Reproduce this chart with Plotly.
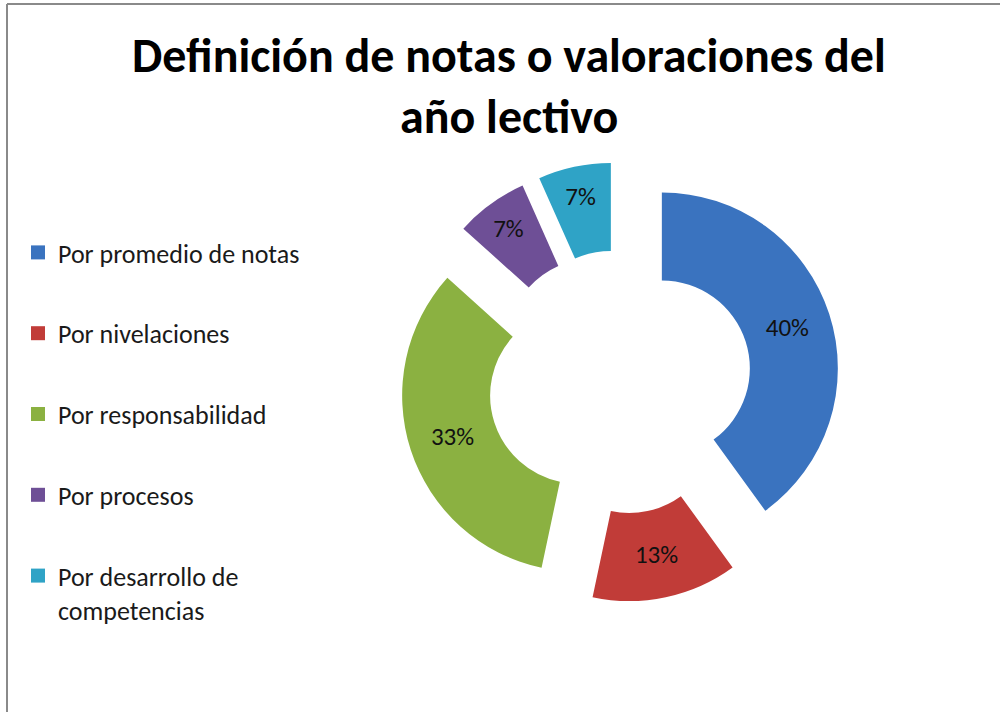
import plotly.graph_objects as go

# ---- data ----
categories = [
    "Por promedio de notas",
    "Por nivelaciones",
    "Por responsabilidad",
    "Por procesos",
    "Por desarrollo de competencias",
]
legend_labels = [
    "Por promedio de notas",
    "Por nivelaciones",
    "Por responsabilidad",
    "Por procesos",
    "Por desarrollo de<br>competencias",
]
counts = [6, 2, 5, 1, 1]
colors = ["#3A73BF", "#C13C38", "#8BB141", "#6E4F96", "#2FA3C6"]
title_line1 = "Definición de notas o valoraciones del"
title_line2 = "año lectivo"

W, H = 1000, 712
FONT = "Carlito, Lato, sans-serif"

fig = go.Figure()

fig.add_trace(go.Pie(
    labels=categories,
    values=counts,
    sort=False,
    direction="clockwise",
    rotation=0,
    hole=0.5,
    pull=[0.25] * len(counts),
    marker=dict(colors=colors, line=dict(width=0)),
    texttemplate="%{percent:.0%}",
    textposition="inside",
    insidetextorientation="horizontal",
    textfont=dict(family=FONT, size=25, color="#111111"),
    showlegend=False,
    hoverinfo="label+percent",
    domain=dict(x=[400 / W, 840 / W], y=[1 - 602 / H, 1 - 162 / H]),
))

# legend entries (one per category)
for lab, col, cat in zip(legend_labels, colors, categories):
    fig.add_trace(go.Scatter(
        x=[None], y=[None], mode="markers",
        marker=dict(symbol="square", size=14, color=col),
        name=lab, legendgroup=cat, showlegend=True,
    ))

fig.update_layout(
    width=W, height=H,
    margin=dict(l=0, r=0, t=0, b=0),
    paper_bgcolor="white",
    plot_bgcolor="white",
    xaxis=dict(visible=False),
    yaxis=dict(visible=False),
    showlegend=True,
    legend=dict(
        x=18 / W, xanchor="left",
        y=1 - 229 / H, yanchor="top",
        font=dict(family=FONT, size=26, color="#1a1a1a"),
        tracegroupgap=44,
        traceorder="grouped",
        valign="top",
        bgcolor="rgba(0,0,0,0)",
        itemclick=False,
    ),
    annotations=[
        dict(text="<b>" + title_line1 + "</b>", x=509 / W, y=1 - 56 / H,
             xref="paper", yref="paper", xanchor="center", yanchor="middle",
             showarrow=False, font=dict(family=FONT, size=48, color="black")),
        dict(text="<b>" + title_line2 + "</b>", x=509 / W, y=1 - 116 / H,
             xref="paper", yref="paper", xanchor="center", yanchor="middle",
             showarrow=False, font=dict(family=FONT, size=48, color="black")),
    ],
    shapes=[
        dict(type="line", xref="paper", yref="paper",
             x0=7 / W, x1=1.0, y0=1 - 4 / H, y1=1 - 4 / H,
             line=dict(color="#8a8a8a", width=2)),
        dict(type="line", xref="paper", yref="paper",
             x0=7 / W, x1=7 / W, y0=1 - 4 / H, y1=0,
             line=dict(color="#8a8a8a", width=2)),
    ],
)

fig.write_html(
    "out.html",
    config={"displayModeBar": False},
    post_script="document.body.style.margin='0';document.body.style.overflow='hidden';",
)
